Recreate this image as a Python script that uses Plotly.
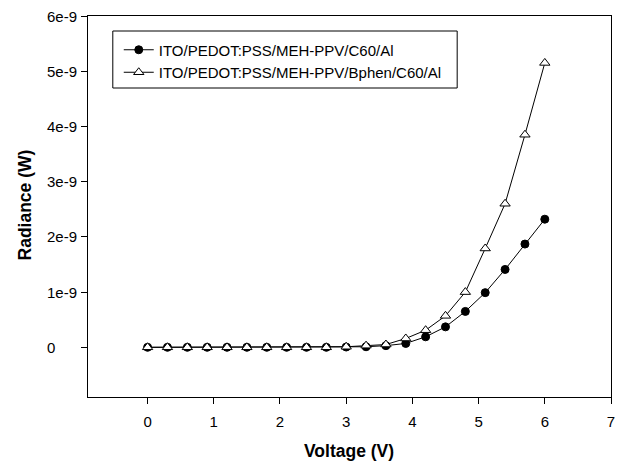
import plotly.graph_objects as go

voltage = [0.0, 0.3, 0.6, 0.9, 1.2, 1.5, 1.8, 2.1, 2.4, 2.7, 3.0,
           3.3, 3.6, 3.9, 4.2, 4.5, 4.8, 5.1, 5.4, 5.7, 6.0]
rad_c60 = [0, 0, 0, 0, 0, 0, 0, 0, 0, 0, 0.005e-9,
           0.01e-9, 0.03e-9, 0.07e-9, 0.19e-9, 0.37e-9, 0.65e-9, 0.99e-9, 1.41e-9, 1.87e-9, 2.32e-9]
rad_bphen = [0, 0, 0, 0, 0, 0, 0, 0, 0, 0, 0.01e-9,
             0.03e-9, 0.05e-9, 0.16e-9, 0.31e-9, 0.57e-9, 1.0e-9, 1.79e-9, 2.60e-9, 3.85e-9, 5.15e-9]
names = ["ITO/PEDOT:PSS/MEH-PPV/C60/Al", "ITO/PEDOT:PSS/MEH-PPV/Bphen/C60/Al"]
x_ticks = [0, 1, 2, 3, 4, 5, 6, 7]
y_ticks = [0, 1e-9, 2e-9, 3e-9, 4e-9, 5e-9, 6e-9]
y_ticktext = ["0", "1e-9", "2e-9", "3e-9", "4e-9", "5e-9", "6e-9"]

FONT = "Liberation Sans, Arial, sans-serif"
W, H = 625, 461
ML, MR, MT, MB = 88, 10, 16, 64
pw = W - ML - MR
ph = H - MT - MB

def px_to_paper_x(px):
    return (px - ML) / pw

def px_to_paper_y(py):
    return (H - MB - py) / ph

fig = go.Figure()
fig.add_trace(go.Scatter(
    x=voltage, y=rad_c60, name=names[0], mode="lines+markers",
    line=dict(color="black", width=1),
    marker=dict(symbol="circle", size=8, color="black", line=dict(color="black", width=1)),
))
fig.add_trace(go.Scatter(
    x=voltage, y=rad_bphen, name=names[1], mode="lines+markers",
    line=dict(color="black", width=1),
    marker=dict(symbol="triangle-up", size=9, color="white", line=dict(color="black", width=1)),
))

annotations = []
for v, t in zip(y_ticks, y_ticktext):
    annotations.append(dict(
        x=px_to_paper_x(45), xref="paper", y=v, yref="y",
        text=t, showarrow=False, xanchor="left", yanchor="middle",
        font=dict(family=FONT, size=15, color="black"),
    ))
annotations.append(dict(
    x=px_to_paper_x(351), xref="paper", y=px_to_paper_y(451), yref="paper",
    text="<b>Voltage (V)</b>", showarrow=False, xanchor="center", yanchor="middle",
    font=dict(family=FONT, size=17.5, color="black"),
))
annotations.append(dict(
    x=px_to_paper_x(25), xref="paper", y=px_to_paper_y(205), yref="paper",
    text="<b>Radiance (W)</b>", showarrow=False, xanchor="center", yanchor="middle",
    textangle=-90,
    font=dict(family=FONT, size=17.5, color="black"),
))

# legend frame
shapes = [dict(
    type="rect", xref="paper", yref="paper",
    x0=px_to_paper_x(113), x1=px_to_paper_x(460),
    y0=px_to_paper_y(88), y1=px_to_paper_y(31),
    line=dict(color="black", width=1), fillcolor="rgba(0,0,0,0)", layer="above",
)]

fig.update_layout(
    width=W, height=H,
    margin=dict(l=ML, r=MR, t=MT, b=MB),
    paper_bgcolor="white", plot_bgcolor="white",
    font=dict(family=FONT, size=15, color="black"),
    showlegend=True,
    legend=dict(
        x=px_to_paper_x(119), y=px_to_paper_y(33.5), xanchor="left", yanchor="top",
        borderwidth=0, bgcolor="rgba(0,0,0,0)",
        font=dict(family=FONT, size=15, color="black"),
        tracegroupgap=0,
    ),
    xaxis=dict(
        range=[-0.9, 7], tickvals=x_ticks, ticks="outside", ticklen=6,
        tickcolor="black", showline=True, linecolor="black", linewidth=1,
        mirror=True, showgrid=False, zeroline=False, ticklabelstandoff=5,
        tickfont=dict(family=FONT, size=15, color="black"),
    ),
    yaxis=dict(
        range=[-0.9e-9, 6e-9], tickvals=y_ticks, ticks="outside", ticklen=6,
        tickcolor="black", showline=True, linecolor="black", linewidth=1,
        mirror=True, showgrid=False, zeroline=False, showticklabels=False,
    ),
    annotations=annotations,
    shapes=shapes,
)

fig.write_html("out.html")
